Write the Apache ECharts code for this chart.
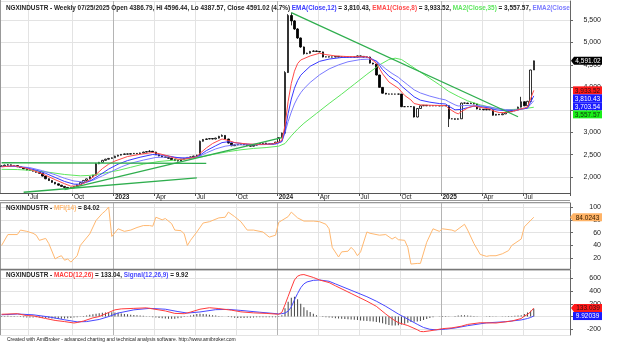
<!DOCTYPE html>
<html>
<head>
<meta charset="utf-8">
<script src="https://cdn.jsdelivr.net/npm/echarts@6/dist/echarts.min.js"></script>
<style>
  html, body { margin: 0; padding: 0; background: #fff; }
  #chart { width: 641px; height: 352px; }
</style>
</head>
<body>
<div id="chart"></div>
<script>
// weekly bars, first bar Fri 2022-04-29, 170 bars + empty slots on the right
const firstWeek = Date.UTC(2022, 3, 29);
const slotCount = 181;
const monthNames = ['Jan','Feb','Mar','Apr','May','Jun','Jul','Aug','Sep','Oct','Nov','Dec'];

const opens = [
  2240, 2250, 2268, 2275, 2262, 2258, 2232, 2215, 2185, 2160,
  2150, 2135, 2110, 2085, 2025, 1965, 1925, 1885, 1852, 1822,
  1795, 1772, 1758, 1765, 1790, 1830, 1880, 1928, 1962, 2010,
  2045, 2300, 2330, 2375, 2400, 2418, 2432, 2468, 2490, 2508,
  2518, 2514, 2524, 2530, 2522, 2540, 2558, 2570, 2578, 2560,
  2500, 2472, 2452, 2440, 2420, 2392, 2370, 2362, 2400, 2420,
  2440, 2452, 2470, 2490, 2800, 2840, 2852, 2860, 2850, 2870,
  2910, 2930, 2850, 2760, 2700, 2720, 2730, 2740, 2722, 2702,
  2690, 2712, 2730, 2750, 2760, 2742, 2730, 2750, 2780, 2880,
  2980, 4330, 5600, 5480, 5300, 5100, 4900, 4750, 4760, 4800,
  4810, 4800, 4790, 4676, 4680, 4676, 4676, 4690, 4676, 4676,
  4680, 4676, 4676, 4676, 4700, 4690, 4676, 4676, 4540, 4520,
  4275, 4000, 3870, 3850, 3852, 3850, 3850, 3850, 3570, 3570,
  3572, 3570, 3340, 3530, 3590, 3600, 3590, 3590, 3592, 3590,
  3590, 3595, 3590, 3300, 3300, 3290, 3300, 3650, 3650, 3640,
  3650, 3630, 3520, 3510, 3500, 3510, 3500, 3380, 3400, 3390,
  3410, 3440, 3460, 3480, 3500, 3560, 3680, 3590, 3690, 4386.79
];
const highs = [
  2262, 2280, 2290, 2282, 2270, 2262, 2238, 2220, 2190, 2168,
  2156, 2140, 2115, 2090, 2030, 1972, 1930, 1890, 1858, 1828,
  1800, 1778, 1772, 1798, 1838, 1888, 1935, 1970, 2018, 2052,
  2318, 2340, 2385, 2410, 2428, 2442, 2478, 2498, 2516, 2526,
  2526, 2532, 2540, 2536, 2548, 2568, 2582, 2602, 2584, 2565,
  2506, 2478, 2458, 2446, 2425, 2398, 2376, 2408, 2428, 2448,
  2460, 2478, 2498, 2815, 2850, 2862, 2870, 2868, 2880, 2920,
  2952, 2936, 2855, 2765, 2728, 2738, 2748, 2746, 2728, 2708,
  2720, 2738, 2758, 2768, 2766, 2748, 2758, 2788, 2890, 2992,
  4360, 5630, 5663, 5500, 5320, 5110, 4910, 4772, 4812, 4825,
  4820, 4808, 4795, 4688, 4686, 4684, 4698, 4696, 4684, 4688,
  4686, 4684, 4684, 4710, 4708, 4696, 4684, 4684, 4548, 4526,
  4282, 4006, 3876, 3860, 3860, 3858, 3858, 3856, 3578, 3580,
  3580, 3578, 3540, 3598, 3608, 3606, 3598, 3600, 3600, 3598,
  3604, 3602, 3596, 3310, 3308, 3310, 3660, 3660, 3658, 3660,
  3656, 3636, 3528, 3518, 3518, 3518, 3506, 3408, 3408, 3418,
  3448, 3468, 3488, 3508, 3570, 3790, 3688, 3700, 4392, 4596.44
];
const lows = [
  2232, 2244, 2260, 2255, 2248, 2225, 2205, 2178, 2152, 2140,
  2128, 2100, 2075, 2015, 1955, 1915, 1875, 1842, 1812, 1785,
  1760, 1735, 1740, 1758, 1785, 1825, 1875, 1922, 1958, 2005,
  2040, 2290, 2322, 2368, 2392, 2410, 2428, 2460, 2484, 2500,
  2506, 2508, 2518, 2514, 2516, 2534, 2552, 2560, 2552, 2492,
  2464, 2445, 2432, 2412, 2385, 2360, 2350, 2356, 2394, 2414,
  2434, 2446, 2464, 2485, 2792, 2832, 2845, 2842, 2844, 2862,
  2902, 2842, 2750, 2690, 2694, 2712, 2722, 2714, 2694, 2682,
  2684, 2706, 2724, 2742, 2734, 2722, 2724, 2744, 2774, 2872,
  2975, 4320, 5380, 5280, 5080, 4880, 4730, 4740, 4752, 4792,
  4790, 4782, 4668, 4670, 4668, 4668, 4670, 4668, 4668, 4670,
  4668, 4668, 4668, 4670, 4682, 4668, 4668, 4530, 4510, 4265,
  3990, 3860, 3842, 3844, 3842, 3842, 3842, 3560, 3562, 3562,
  3562, 3330, 3332, 3524, 3582, 3582, 3582, 3582, 3582, 3582,
  3582, 3582, 3117, 3290, 3280, 3282, 3295, 3640, 3632, 3632,
  3622, 3510, 3502, 3492, 3492, 3492, 3370, 3372, 3382, 3382,
  3404, 3432, 3452, 3472, 3494, 3552, 3580, 3582, 3682, 4387.57
];
const closes = [
  2250, 2268, 2275, 2262, 2258, 2232, 2215, 2185, 2160, 2150,
  2135, 2110, 2085, 2025, 1965, 1925, 1885, 1852, 1822, 1795,
  1772, 1758, 1765, 1790, 1830, 1880, 1928, 1962, 2010, 2045,
  2300, 2330, 2375, 2400, 2418, 2432, 2468, 2490, 2508, 2518,
  2514, 2524, 2530, 2522, 2540, 2558, 2570, 2578, 2560, 2500,
  2472, 2452, 2440, 2420, 2392, 2370, 2362, 2400, 2420, 2440,
  2452, 2470, 2490, 2800, 2840, 2852, 2860, 2850, 2870, 2910,
  2930, 2850, 2760, 2700, 2720, 2730, 2740, 2722, 2702, 2690,
  2712, 2730, 2750, 2760, 2742, 2730, 2750, 2780, 2880, 2980,
  4330, 5600, 5480, 5300, 5100, 4900, 4750, 4760, 4800, 4810,
  4800, 4790, 4676, 4680, 4676, 4676, 4690, 4676, 4676, 4680,
  4676, 4676, 4676, 4700, 4690, 4676, 4676, 4540, 4520, 4275,
  4000, 3870, 3850, 3852, 3850, 3850, 3850, 3570, 3570, 3572,
  3570, 3340, 3530, 3590, 3600, 3590, 3590, 3592, 3590, 3590,
  3595, 3590, 3300, 3300, 3290, 3300, 3650, 3650, 3640, 3650,
  3630, 3520, 3510, 3500, 3510, 3500, 3380, 3400, 3390, 3410,
  3440, 3460, 3480, 3500, 3560, 3680, 3590, 3690, 4386.79, 4591.02
];

// moving averages: [bar index, value]
const ema8 = [[0,2230],[4,2255],[8,2195],[10,2150],[13,2075],[17,1945],[20,1855],[22,1800],[24,1805],[26,1860],[28,1945],[30,2060],[32,2190],[34,2290],[36,2360],[40,2460],[44,2510],[48,2550],[50,2525],[53,2470],[56,2400],[58,2400],[61,2440],[62,2460],[63,2530],[65,2650],[67,2750],[70,2850],[72,2820],[74,2770],[78,2740],[82,2730],[86,2740],[88,2780],[89,2820],[90,3150],[91,3690],[92,4090],[93,4360],[94,4530],[95,4610],[96,4640],[98,4700],[101,4760],[103,4730],[106,4700],[110,4685],[116,4680],[117,4650],[119,4540],[121,4300],[123,4120],[126,3980],[128,3820],[130,3720],[131,3640],[133,3610],[137,3600],[141,3595],[142,3530],[144,3440],[145,3410],[146,3460],[148,3540],[150,3590],[151,3570],[153,3540],[155,3520],[156,3480],[158,3440],[160,3440],[162,3460],[164,3500],[166,3540],[167,3562],[168,3745],[169,3933.52]];
const ema12 = [[0,2235],[4,2248],[8,2205],[11,2155],[14,2085],[17,1995],[20,1905],[23,1845],[25,1845],[28,1910],[31,2040],[34,2180],[37,2290],[40,2370],[44,2445],[48,2505],[52,2485],[55,2445],[58,2420],[61,2440],[63,2490],[65,2590],[68,2700],[70,2770],[72,2790],[75,2760],[79,2730],[83,2730],[87,2745],[88,2765],[89,2795],[90,3030],[91,3420],[92,3740],[93,3980],[94,4150],[95,4270],[96,4340],[98,4470],[101,4580],[104,4630],[108,4665],[116,4676],[117,4655],[119,4580],[120,4490],[121,4395],[123,4250],[126,4110],[127,4030],[129,3910],[131,3790],[133,3715],[136,3670],[139,3640],[141,3630],[142,3580],[144,3500],[146,3510],[148,3550],[150,3580],[152,3570],[155,3540],[157,3500],[160,3480],[163,3480],[165,3515],[167,3537],[168,3668],[169,3810.43]];
const ema20 = [[0,2240],[5,2240],[9,2212],[13,2145],[17,2055],[20,1975],[23,1915],[26,1893],[29,1930],[32,2030],[35,2130],[38,2230],[41,2310],[45,2380],[49,2440],[53,2450],[57,2430],[61,2440],[63,2470],[65,2540],[68,2630],[71,2690],[74,2720],[78,2720],[83,2725],[87,2735],[89,2790],[90,2990],[91,3240],[92,3450],[93,3630],[94,3770],[95,3880],[96,3970],[98,4110],[101,4280],[104,4410],[107,4500],[110,4570],[114,4620],[117,4630],[119,4590],[120,4530],[122,4410],[124,4310],[126,4225],[127,4165],[129,4055],[131,3945],[133,3875],[136,3805],[139,3750],[141,3720],[142,3680],[144,3610],[145,3585],[147,3595],[150,3605],[152,3590],[155,3565],[157,3535],[160,3505],[163,3495],[165,3520],[167,3540],[168,3620],[169,3703.54]];
const ma35 = [[0,2175],[5,2170],[10,2150],[15,2110],[20,2060],[25,2030],[28,2040],[31,2070],[34,2110],[37,2150],[41,2220],[45,2290],[50,2350],[55,2380],[60,2420],[64,2460],[68,2520],[72,2570],[76,2610],[80,2640],[84,2660],[88,2690],[90,2750],[92,2920],[94,3070],[96,3200],[100,3420],[104,3640],[108,3850],[112,4070],[116,4290],[120,4500],[123,4620],[125,4650],[127,4620],[130,4480],[133,4340],[136,4200],[139,4060],[142,3910],[145,3800],[148,3700],[152,3610],[156,3545],[160,3500],[163,3510],[166,3525],[169,3557.57]];

// hand drawn trend lines: [[bar, price], [bar, price]]
const trendLines = [
  [[0, 2322], [65, 2308]],
  [[7, 1665], [62, 1983]],
  [[20, 1723], [89, 2880]],
  [[92, 5663], [164, 3345]]
];

// MFI(14)
const mfi = [[0,40],[2,57],[5,57],[6,64],[8,62],[10,59],[11,56],[12,48],[14,51],[15,43],[17,19],[18,22],[19,24],[20,17],[21,19],[22,14],[24,24],[25,40],[28,58],[30,79],[32,90],[33,94],[34,100],[35,54],[37,66],[39,62],[41,64],[43,68],[45,71],[47,71],[48,70],[49,84],[51,80],[52,82],[54,74],[55,64],[57,63],[58,58],[59,40],[60,48],[62,61],[64,75],[66,77],[69,83],[71,84],[72,92],[74,85],[76,77],[78,64],[80,64],[83,61],[85,53],[87,56],[88,76],[91,85],[92,92],[94,83],[96,78],[99,78],[101,77],[103,73],[104,66],[105,37],[107,22],[108,30],[110,31],[111,37],[112,32],[113,24],[114,30],[116,61],[117,59],[120,56],[122,57],[124,50],[125,53],[126,49],[128,48],[129,37],[130,11],[132,12],[133,12],[135,45],[137,66],[139,62],[140,66],[143,64],[144,62],[147,73],[148,64],[150,43],[152,26],[154,23],[155,24],[157,24],[159,27],[161,32],[162,40],[165,50],[166,69],[169,84.0243]];

// MACD(12,26), Signal(12,26,9), histogram
const macd = [[0,36],[5,45],[8,15],[10,12],[14,-30],[17,-60],[20,-78],[23,-100],[24,-92],[26,-70],[29,-20],[31,0],[34,64],[36,105],[38,120],[42,128],[46,136],[48,120],[52,88],[55,50],[58,45],[60,70],[63,115],[66,138],[69,125],[71,112],[73,100],[76,74],[80,58],[84,50],[88,36],[89,65],[90,185],[91,315],[92,445],[93,570],[94,630],[95,650],[96,655],[97,640],[99,610],[101,570],[104,530],[106,480],[111,360],[116,240],[119,160],[122,40],[124,-35],[126,-95],[129,-140],[132,-205],[133,-232],[134,-235],[136,-222],[138,-206],[140,-188],[143,-176],[146,-150],[148,-122],[152,-96],[157,-100],[162,-70],[165,-30],[166,10],[167,32],[168,76],[169,133.039]];
const signal = [[0,28],[5,40],[10,28],[15,-5],[20,-50],[24,-82],[27,-78],[31,-45],[34,0],[37,55],[42,105],[47,128],[52,115],[56,78],[59,55],[63,72],[68,108],[72,112],[76,96],[82,68],[88,42],[89,45],[90,55],[91,85],[92,150],[93,260],[94,360],[95,450],[96,510],[97,540],[99,565],[101,570],[104,550],[106,510],[111,410],[116,310],[119,240],[122,160],[124,100],[126,40],[129,-40],[132,-120],[134,-170],[136,-198],[138,-206],[141,-196],[144,-178],[148,-142],[154,-98],[160,-80],[165,-52],[167,-30],[168,-14],[169,9.92039]];
const hist = [
  8, 10, 12, 10, 8, 5, -5, -10, -14, -16,
  -15, -12, -14, -18, -22, -25, -28, -30, -32, -32,
  -30, -26, -22, -16, -10, -2, 8, 18, 28, 38,
  46, 52, 58, 64, 66, 66, 64, 58, 50, 42,
  35, 28, 24, 20, 16, 12, 6, -2, -10, -16,
  -22, -26, -30, -32, -34, -32, -26, -18, -8, 4,
  16, 30, 40, 44, 42, 36, 30, 22, 16, 10,
  6, 0, -6, -12, -18, -22, -24, -22, -20, -17,
  -14, -12, -10, -10, -11, -12, -12, -11, -6, 20,
  130, 230, 295, 310, 270, 200, 145, 100, 70, 45,
  20, 0, -5, -10, -15, -20, -25, -30, -34, -38,
  -42, -46, -50, -55, -60, -64, -68, -72, -78, -84,
  -92, -104, -118, -130, -138, -140, -134, -124, -110, -96,
  -86, -80, -78, -70, -55, -38, -22, -10, 0, 6,
  10, 8, 4, 2, 10, 16, 20, 22, 18, 14,
  10, 6, 2, 0, -4, -6, -4, -2, 2, 4,
  6, 8, 10, 12, 16, 22, 40, 62, 90, 123.12
];

const weekDates = [];
for (let k = 0; k < slotCount; k++) weekDates.push(new Date(firstWeek + k * 7 * 86400000));
const categories = weekDates.map(d => d.toISOString().slice(0, 10));
const last = closes.length - 1;

// grid/labels only on bars that exist
function quarterStart(i) {
  if (i === 0 || i > last) return false;
  const m = weekDates[i].getUTCMonth();
  return m !== weekDates[i - 1].getUTCMonth() && m % 3 === 0;
}
function yearStart(i) {
  return i > 0 && i <= last && weekDates[i].getUTCFullYear() !== weekDates[i - 1].getUTCFullYear();
}

const FONT = '"Liberation Sans", Arial, sans-serif';
const DARK = '#222';
const C_EMA12 = '#3a3aff', C_EMA8 = '#ff4a4a', C_MA35 = '#5ee65e', C_EMA20 = '#7a7aff';
const C_TREND = '#2fae4e', C_MFI = '#ffb870', C_MACD = '#ff3c3c', C_SIG = '#4848ff';

function fmt(v, d) {
  return v.toLocaleString('en-US', { minimumFractionDigits: d, maximumFractionDigits: d });
}
const last8 = ema8[ema8.length - 1][1], last12 = ema12[ema12.length - 1][1];
const last20 = ema20[ema20.length - 1][1], last35 = ma35[ma35.length - 1][1];
const lastMfi = mfi[mfi.length - 1][1];
const lastMacd = macd[macd.length - 1][1], lastSig = signal[signal.length - 1][1];
const d = weekDates[last];
const dateText = String(d.getUTCMonth() + 1).padStart(2, '0') + '/' + String(d.getUTCDate()).padStart(2, '0') + '/' + d.getUTCFullYear();
const pct = (closes[last] / closes[last - 1] - 1) * 100;

const priceTitle =
  '{d|NGXINDUSTR - Weekly ' + dateText + ' Open ' + opens[last].toFixed(2) + ', Hi ' + highs[last].toFixed(2) +
  ', Lo ' + lows[last].toFixed(2) + ', Close ' + closes[last].toFixed(2) + ' (' + pct.toFixed(1) + '%) }' +
  '{b|EMA(Close,12)}{d| = ' + fmt(last12, 2) + ', }' +
  '{r|EMA1(Close,8)}{d| = ' + fmt(last8, 2) + ', }' +
  '{g|MA2(Close,35)}{d| = ' + fmt(last35, 2) + ', }' +
  '{b2|EMA2(Close}';

function rich(extra) {
  const base = { fontSize: 6.4, fontFamily: FONT };
  const out = { d: Object.assign({ color: DARK }, base) };
  for (const k in extra) out[k] = Object.assign({ color: extra[k] }, base);
  return out;
}

const grids = [
  { left: 0, right: 71, top: 1, height: 192 },
  { left: 0, right: 71, top: 203, height: 66 },
  { left: 0, right: 71, top: 270, height: 65 }
];

function xAxes(gridIndex, withLabels) {
  return [
    {
      type: 'category', gridIndex, data: categories, boundaryGap: true,
      axisLine: { show: withLabels, lineStyle: { color: '#555', width: 1 } },
      axisTick: { show: withLabels, interval: quarterStart, length: 3, lineStyle: { color: '#555' } },
      axisLabel: {
        show: withLabels, interval: quarterStart, margin: 1, align: 'left',
        fontSize: 6.5, fontFamily: FONT, color: DARK,
        formatter: (v, i) => {
          const dt = weekDates[i];
          return dt.getUTCMonth() === 0 ? '{y|' + dt.getUTCFullYear() + '}' : monthNames[dt.getUTCMonth()];
        },
        rich: { y: { fontSize: 6.5, fontFamily: FONT, fontWeight: 'bold', color: DARK } }
      },
      splitLine: { show: true, interval: quarterStart, lineStyle: { color: '#e3e3e3', width: 1 } }
    },
    {
      type: 'category', gridIndex, data: categories, boundaryGap: true,
      axisLine: { show: false }, axisTick: { show: false }, axisLabel: { show: false },
      splitLine: { show: true, interval: yearStart, lineStyle: { color: '#b4b4b4', width: 1 } }
    }
  ];
}

// right axis labels, right-aligned in a fixed box that ends at x = 601
function yAxis(gridIndex, min, max, splitNumber, toText) {
  return {
    type: 'value', gridIndex, position: 'right', min, max, splitNumber,
    axisLine: { show: true, lineStyle: { color: '#666', width: 1 } },
    axisTick: { show: true, length: 3, lineStyle: { color: '#666' } },
    axisLabel: {
      margin: 13, showMinLabel: false, showMaxLabel: false,
      formatter: v => '{a|' + (toText ? toText(v) : String(v)) + '}',
      rich: { a: { width: 18, align: 'right', fontSize: 7, fontFamily: FONT, color: DARK } }
    },
    splitLine: { show: true, lineStyle: { color: '#e3e3e3', width: 1 } }
  };
}

function lineSeries(data, color, xi, yi, width) {
  return {
    type: 'line', data, xAxisIndex: xi, yAxisIndex: yi, showSymbol: false, symbol: 'none',
    lineStyle: { color, width: width || 1 }, z: 4, silent: true
  };
}

const series = [
  {
    type: 'candlestick', xAxisIndex: 0, yAxisIndex: 0, barWidth: 2,
    data: closes.map((c, i) => [opens[i], c, lows[i], highs[i]]),
    itemStyle: { color: '#fff', color0: '#000', borderColor: '#000', borderColor0: '#000', borderWidth: 0.8 },
    z: 3
  },
  lineSeries(ma35, C_MA35, 0, 0),
  lineSeries(ema20, C_EMA20, 0, 0),
  lineSeries(ema12, C_EMA12, 0, 0),
  lineSeries(ema8, C_EMA8, 0, 0),
  ...trendLines.map(t => lineSeries(t, C_TREND, 0, 0, 1.3)),
  lineSeries(mfi, C_MFI, 2, 1),
  {
    type: 'bar', data: hist, xAxisIndex: 4, yAxisIndex: 2, barWidth: 1,
    itemStyle: { color: '#444' }, z: 2, silent: true
  },
  lineSeries(signal, C_SIG, 4, 2),
  lineSeries(macd, C_MACD, 4, 2)
];

const chart = echarts.init(document.getElementById('chart'));
chart.setOption({
  animation: false,
  backgroundColor: '#fff',
  title: [
    { left: 1, top: 0, text: priceTitle, textStyle: { rich: rich({ b: C_EMA12, r: C_EMA8, g: C_MA35, b2: C_EMA20 }) } },
    { left: 1, top: 200, text: '{d|NGXINDUSTR - }{m|MFI(14)}{d| = ' + lastMfi.toFixed(2) + '}', textStyle: { rich: rich({ m: C_MFI }) } },
    { left: 1, top: 267, text: '{d|NGXINDUSTR - }{r|MACD(12,26)}{d| = ' + lastMacd.toFixed(2) + ', }{b|Signal(12,26,9)}{d| = ' + lastSig.toFixed(2) + '}', textStyle: { rich: rich({ r: C_MACD, b: C_SIG }) } },
    { left: 2, top: 332, text: 'Created with AmiBroker - advanced charting and technical analysis software. http://www.amibroker.com', textStyle: { fontSize: 5, fontFamily: FONT, color: DARK, fontWeight: 'normal' } }
  ],
  grid: grids.map(g => Object.assign({ containLabel: false, outerBoundsMode: 'none' }, g)),
  xAxis: [...xAxes(0, true), ...xAxes(1, false), ...xAxes(2, false)],
  yAxis: [
    yAxis(0, 1648, 5923, 8, v => fmt(v, 0)),
    yAxis(1, 3.3, 106.2, 5),
    yAxis(2, -287, 726, 5)
  ],
  series
});

// value tags on the right axis
function tag(yc, bg, fg, text, arrow, x0) {
  const h = 8, x1 = 602;
  const pts = arrow
    ? [[x0, yc], [x0 + 3, yc - h / 2], [x1, yc - h / 2], [x1, yc + h / 2], [x0 + 3, yc + h / 2]]
    : [[x0, yc - h / 2], [x1, yc - h / 2], [x1, yc + h / 2], [x0, yc + h / 2]];
  return [
    { type: 'polygon', shape: { points: pts }, style: { fill: bg }, z: 100 },
    { type: 'text', x: (x0 + (arrow ? 3 : 0) + x1) / 2, y: yc + 0.5, z: 101,
      style: { text, fill: fg, fontSize: 6.5, fontFamily: FONT, align: 'center', verticalAlign: 'middle' } }
  ];
}
const yPix = (axis, v) => chart.convertToPixel({ yAxisIndex: axis }, v);

const stacked = [
  { v: last8, bg: '#ff1a1a', fg: '#301010' },
  { v: last12, bg: '#1a1aff', fg: '#fff' },
  { v: last20, bg: '#1a1aff', fg: '#fff' },
  { v: last35, bg: '#19ef19', fg: '#103010' }
].map(o => Object.assign(o, { y: yPix(0, o.v) })).sort((a, b) => a.y - b.y);
for (let k = 1; k < stacked.length; k++) stacked[k].y = Math.max(stacked[k].y, stacked[k - 1].y + 8);

const graphics = [
  // pane frames
  { type: 'line', shape: { x1: 0.5, y1: 0, x2: 0.5, y2: 193 }, style: { stroke: '#999', lineWidth: 1 } },
  { type: 'line', shape: { x1: 0.5, y1: 203, x2: 0.5, y2: 269 }, style: { stroke: '#999', lineWidth: 1 } },
  { type: 'line', shape: { x1: 0.5, y1: 270, x2: 0.5, y2: 335 }, style: { stroke: '#999', lineWidth: 1 } },
  { type: 'line', shape: { x1: 0, y1: 200.5, x2: 570, y2: 200.5 }, style: { stroke: '#999', lineWidth: 1 } },
  { type: 'line', shape: { x1: 0, y1: 202.5, x2: 570, y2: 202.5 }, style: { stroke: '#999', lineWidth: 1 } },
  { type: 'line', shape: { x1: 0, y1: 269.5, x2: 570, y2: 269.5 }, style: { stroke: '#777', lineWidth: 1.5 } },
  ...tag(yPix(0, closes[last]), '#000', '#fff', fmt(closes[last], 2), true, 571),
  ...stacked.flatMap(o => tag(o.y, o.bg, o.fg, fmt(o.v, 2), false, 573)),
  ...tag(yPix(1, lastMfi), '#ffb366', '#3a2000', String(lastMfi), true, 570),
  ...tag(yPix(2, lastMacd), '#ff1a1a', '#301010', String(lastMacd), true, 571),
  ...tag(Math.max(yPix(2, lastSig), yPix(2, lastMacd) + 8), '#1a1aff', '#fff', String(lastSig), false, 573)
];
chart.setOption({ graphic: graphics });
</script>
</body>
</html>
